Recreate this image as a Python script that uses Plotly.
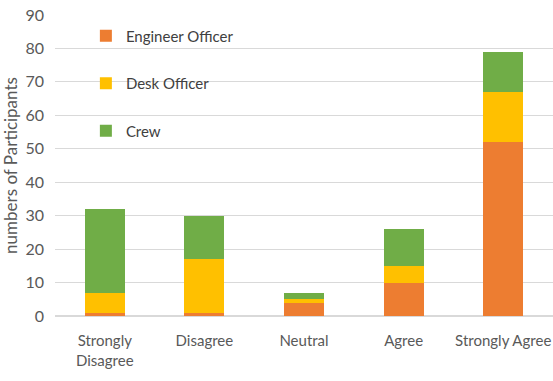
import plotly.graph_objects as go

categories = ["Strongly<br>Disagree", "Disagree", "Neutral", "Agree", "Strongly Agree"]
engineer = [1, 1, 4, 10, 52]
desk = [6, 16, 1, 5, 15]
crew = [25, 13, 2, 11, 12]

series = [
    ("Engineer Officer", engineer, "#ED7D31"),
    ("Desk Officer", desk, "#FFC000"),
    ("Crew", crew, "#70AD47"),
]

fig = go.Figure()
for i, (name, vals, color) in enumerate(series):
    fig.add_trace(go.Bar(x=categories, y=vals, name=name, marker_color=color,
                         marker_line_width=0, legendgroup=f"g{i}"))

font_family = "Lato, 'Open Sans', sans-serif"
fig.update_layout(
    barmode="stack",
    bargap=0.6,
    width=553, height=381,
    margin=dict(l=55, r=0, t=15, b=65),
    plot_bgcolor="white", paper_bgcolor="white",
    font=dict(family=font_family, size=15, color="#595959"),
    legend=dict(x=0.062, y=0.985, xanchor="left", yanchor="top",
                traceorder="grouped", tracegroupgap=25,
                bgcolor="rgba(0,0,0,0)", font=dict(size=15, color="#404040"),
                itemwidth=30),
    yaxis=dict(range=[0, 90], dtick=10, showgrid=True, gridcolor="#D9D9D9",
               gridwidth=1, zeroline=True, zerolinecolor="#D9D9D9",
               ticks="", ticklabelstandoff=10, tickfont=dict(size=16),
               title=dict(text="numbers of Participants", font=dict(size=17, color="#595959"), standoff=4)),
    xaxis=dict(showgrid=False, ticks="", showline=False, tickfont=dict(size=15),
               ticklabelstandoff=14),
    bargroupgap=0,
)
fig.write_html("out.html")
